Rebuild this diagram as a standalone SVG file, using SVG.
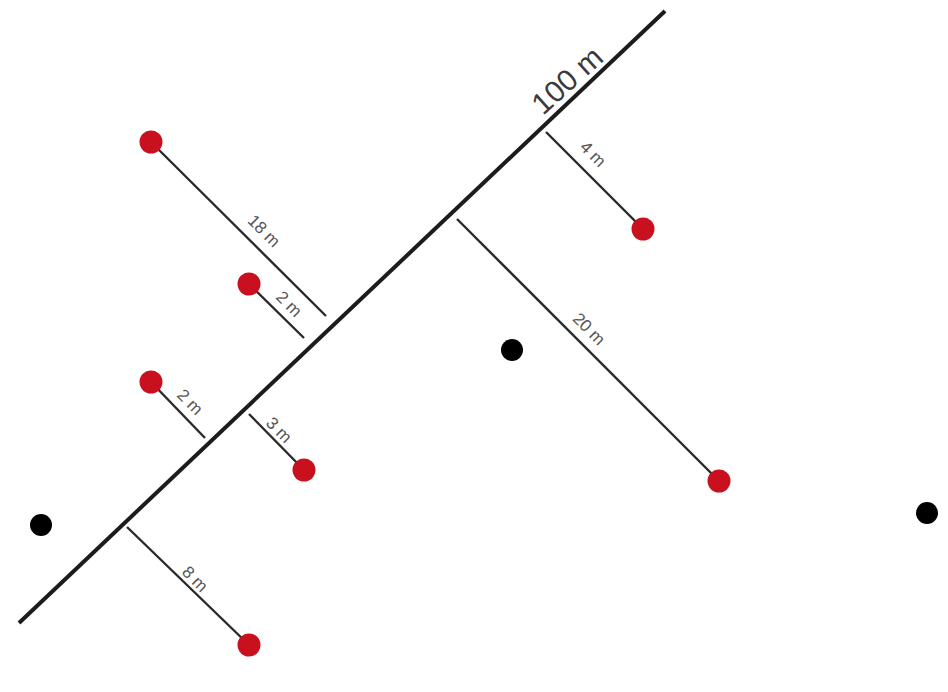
<svg xmlns="http://www.w3.org/2000/svg" width="948" height="692" viewBox="0 0 948 692">
<style>
.m{stroke:#1c1c1c;stroke-width:4;stroke-linecap:butt;fill:none}
.c{stroke:#2a2a2a;stroke-width:2.4;fill:none}
.r{fill:#c8101e}
.b{fill:#000}
text{font-family:"Liberation Sans",Arial,sans-serif;fill:#555;text-anchor:middle}
.s{font-size:17px}
.l{font-size:30px;fill:#3a3a3a}
</style>
<rect width="948" height="692" fill="#fff"/>
<g id="connectors">
<line class="m" x1="19" y1="623" x2="665" y2="11"/>
<line class="c" x1="152" y1="143" x2="326" y2="316"/>
<line class="c" x1="249" y1="284" x2="304" y2="338"/>
<line class="c" x1="151" y1="382" x2="205" y2="438"/>
<line class="c" x1="249" y1="414" x2="304" y2="470"/>
<line class="c" x1="127" y1="527" x2="249" y2="645"/>
<line class="c" x1="546" y1="132" x2="643" y2="229"/>
<line class="c" x1="457" y1="219" x2="719" y2="481"/>
</g>
<g id="label-100m"><text class="l" transform="translate(574 88) rotate(-42)">100 m</text></g>
<g id="label-18m"><text class="s" transform="translate(260 235) rotate(45)">18 m</text></g>
<g id="label-2m-a"><text class="s" transform="translate(285 308) rotate(45)">2 m</text></g>
<g id="label-2m-b"><text class="s" transform="translate(186 406) rotate(45)">2 m</text></g>
<g id="label-3m"><text class="s" transform="translate(275 434) rotate(45)">3 m</text></g>
<g id="label-8m"><text class="s" transform="translate(191 583) rotate(45)">8 m</text></g>
<g id="label-4m"><text class="s" transform="translate(589 158) rotate(45)">4 m</text></g>
<g id="label-20m"><text class="s" transform="translate(585 333) rotate(45)">20 m</text></g>
<g id="red-1"><circle class="r" cx="151" cy="142" r="11.5"/></g>
<g id="red-2"><circle class="r" cx="249" cy="284" r="11.5"/></g>
<g id="red-3"><circle class="r" cx="151" cy="382" r="11.5"/></g>
<g id="red-4"><circle class="r" cx="304" cy="470" r="11.5"/></g>
<g id="red-5"><circle class="r" cx="249" cy="645" r="11.5"/></g>
<g id="red-6"><circle class="r" cx="643" cy="229" r="11.5"/></g>
<g id="red-7"><circle class="r" cx="719" cy="481" r="11.5"/></g>
<g id="black-1"><circle class="b" cx="41" cy="525" r="11"/></g>
<g id="black-2"><circle class="b" cx="512" cy="350" r="11"/></g>
<g id="black-3"><circle class="b" cx="927" cy="513" r="11"/></g>
</svg>
